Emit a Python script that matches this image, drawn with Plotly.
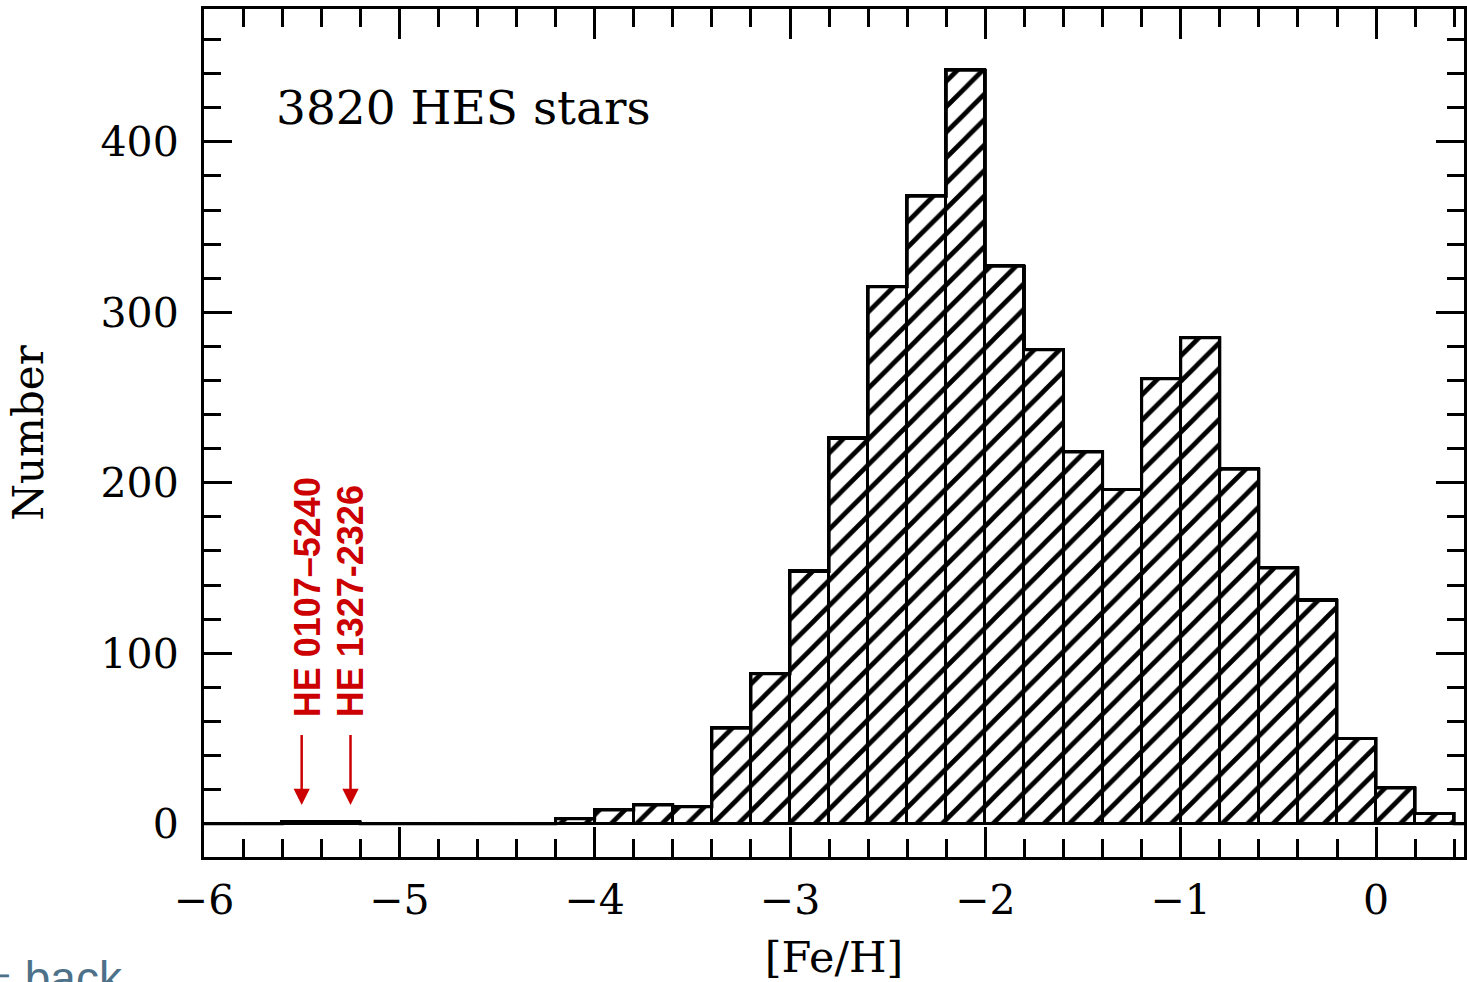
import plotly.graph_objects as go

# ---- data -------------------------------------------------------------
bin_left = [round(-6.0 + 0.2 * i, 1) for i in range(33)]  # -6.0 ... 0.4
counts = [0, 0, 1, 1, 0, 0, 0, 0, 0, 3,
          8, 11, 10, 56, 88, 148, 226, 315, 368, 442,
          327, 278, 218, 196, 261, 285, 208, 150, 131, 50,
          21, 6, 0]
bin_width = 0.2

star_names = ["HE 0107\u20135240", "HE 1327-2326"]
star_feh = [-5.5, -5.25]
label_text = "3820 HES stars"

x_title = "[Fe/H]"
y_title = "Number"

# ---- figure -----------------------------------------------------------
centers = [b + bin_width / 2 for b in bin_left]
edges = bin_left + [bin_left[-1] + bin_width]
step_y = counts + [counts[-1]]

W, H = 1467, 982
ML, MR, MT, MB = 204, 0, 9, 125

fig = go.Figure()
fig.add_trace(go.Bar(
    x=centers, y=counts, width=bin_width,
    marker=dict(color="white",
                line=dict(color="black", width=3),
                pattern=dict(shape="/", fgcolor="#000000", bgcolor="#ffffff",
                             fgopacity=1, fillmode="replace",
                             size=18, solidity=0.26)),
    showlegend=False, hoverinfo="skip",
))
fig.add_trace(go.Scatter(
    x=edges, y=step_y, mode="lines", line=dict(color="black", width=3, shape="hv"),
    showlegend=False, hoverinfo="skip",
))

serif = "DejaVu Serif"
red = "#cc0000"

# text label
fig.add_annotation(x=-5.64, y=420, xref="x", yref="y", text=label_text,
                   showarrow=False, xanchor="left", yanchor="middle",
                   font=dict(family=serif, size=47, color="black"))

# red arrows and labels
label_x = [star_feh[0] + 0.03, star_feh[1]]
for name, fx, lx in zip(star_names, star_feh, label_x):
    fig.add_annotation(x=fx, y=11, ax=fx, ay=53, xref="x", yref="y",
                       axref="x", ayref="y", text="", showarrow=True,
                       arrowhead=2, arrowsize=1.3, arrowwidth=2.5,
                       arrowcolor=red)
    fig.add_annotation(x=lx, y=61, xref="x", yref="y", text=name,
                       showarrow=False, textangle=-90,
                       xanchor="center", yanchor="bottom",
                       font=dict(family="Liberation Sans", size=36, color=red,
                                 weight="bold"))

# "back" link text (partly cut at page edge, as in the source page)
fig.add_annotation(x=(-30 - ML) / (W - ML - MR), y=(H - MB - 950) / (H - MT - MB),
                   xref="paper", yref="paper", text="\u21d0 back",
                   showarrow=False, xanchor="left", yanchor="top",
                   font=dict(family="Liberation Sans", size=46, color="#4d7189"))

fig.update_layout(
    width=W, height=H,
    margin=dict(l=ML, r=MR, t=MT, b=MB, pad=0),
    paper_bgcolor="white", plot_bgcolor="white",
    bargap=0,
    font=dict(family=serif, color="black"),
)
fig.update_xaxes(
    range=[-6, 0.45], showgrid=False, zeroline=False,
    showline=True, linecolor="black", linewidth=3, mirror="allticks",
    ticks="inside", ticklen=30, tickwidth=3, tickcolor="black",
    tick0=-6, dtick=1,
    minor=dict(ticks="inside", ticklen=18, tickwidth=3, tickcolor="black",
               dtick=0.2, tick0=-6, showgrid=False),
    tickfont=dict(family=serif, size=41, color="black"),
    ticklabelstandoff=5,
    title=dict(text=x_title, font=dict(family=serif, size=43, color="black"),
               standoff=20),
)
fig.update_yaxes(
    range=[-19.5, 477.9], showgrid=False, zeroline=False,
    showline=True, linecolor="black", linewidth=3, mirror="allticks",
    ticks="inside", ticklen=28, tickwidth=3, tickcolor="black",
    tick0=0, dtick=100,
    minor=dict(ticks="inside", ticklen=17, tickwidth=3, tickcolor="black",
               dtick=20, tick0=0, showgrid=False),
    tickfont=dict(family=serif, size=41, color="black"),
    ticklabelstandoff=14,
    title=dict(text=y_title, font=dict(family=serif, size=42, color="black"),
               standoff=44),
)

fig.write_html("out.html")
